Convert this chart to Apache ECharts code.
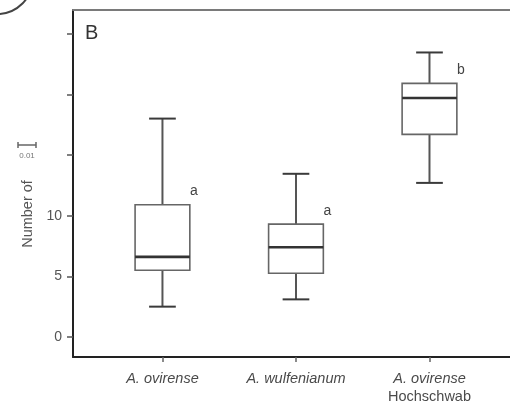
<!DOCTYPE html>
<html>
<head>
<meta charset="utf-8">
<style>
  html, body { margin: 0; padding: 0; background: #fff; }
  #chart { width: 510px; height: 411px; }
</style>
<script src="https://cdn.jsdelivr.net/npm/echarts@6/dist/echarts.min.js"></script>
</head>
<body>
<div id="chart"></div>
<script>
// Groups on the x axis (species name in italics, optional site on a second line)
const groups = ['A. ovirense', 'A. wulfenianum', 'A. ovirense'];
const sites = ['', '', 'Hochschwab'];

// Box-plot statistics per group
const whiskerLow  = [2.5, 3.1, 12.7];
const quart1      = [5.5, 5.25, 16.7];
const medians     = [6.6, 7.4, 19.7];
const quart3      = [10.9, 9.3, 20.9];
const whiskerHigh = [18.0, 13.45, 23.45];

// Significance letters
const letters = ['a', 'a', 'b'];

// Y axis ticks and which of them carry labels
const yTickValues = [0, 5, 10, 15, 20, 25];
const yLabelValues = [0, 5, 10];
const xTickValues = [0, 1, 2];

const boxData = groups.map((g, i) => [i, whiskerLow[i], quart1[i], medians[i], quart3[i], whiskerHigh[i]]);

const chart = echarts.init(document.getElementById('chart'), null, { renderer: 'canvas' });

function renderBox(params, api) {
  const i = api.value(0);
  const cx = api.coord([i, 0])[0];
  const unit = api.size([1, 0])[0];
  const bw = unit * 0.41;
  const cw = unit * 0.2;
  const yLow = api.coord([i, api.value(1)])[1];
  const yQ1 = api.coord([i, api.value(2)])[1];
  const yMed = api.coord([i, api.value(3)])[1];
  const yQ3 = api.coord([i, api.value(4)])[1];
  const yHigh = api.coord([i, api.value(5)])[1];
  const whisker = { stroke: '#555', lineWidth: 2 };
  const cap = { stroke: '#3a3a3a', lineWidth: 2 };
  return {
    type: 'group',
    children: [
      { type: 'line', shape: { x1: cx, y1: yQ1, x2: cx, y2: yLow }, style: whisker },
      { type: 'line', shape: { x1: cx, y1: yQ3, x2: cx, y2: yHigh }, style: whisker },
      { type: 'line', shape: { x1: cx - cw / 2, y1: yLow, x2: cx + cw / 2, y2: yLow }, style: cap },
      { type: 'line', shape: { x1: cx - cw / 2, y1: yHigh, x2: cx + cw / 2, y2: yHigh }, style: cap },
      { type: 'rect', shape: { x: cx - bw / 2, y: yQ3, width: bw, height: yQ1 - yQ3 },
        style: { fill: '#fff', stroke: '#666', lineWidth: 1.6 } },
      { type: 'line', shape: { x1: cx - bw / 2, y1: yMed, x2: cx + bw / 2, y2: yMed },
        style: { stroke: '#333', lineWidth: 2.6 } },
      { type: 'text', x: cx + bw / 2 + 4, y: yQ3 - 13.5,
        style: { text: letters[i], fill: '#444', font: '14px "Liberation Sans", Arial, sans-serif',
                 align: 'center', verticalAlign: 'middle' } }
    ]
  };
}

const fontFam = '"Liberation Sans", Arial, sans-serif';

chart.setOption({
  animation: false,
  backgroundColor: '#fff',
  // plot area runs off the right edge of the canvas
  grid: { left: 73, top: 10, right: 0, bottom: 54 },
  xAxis: [{
    type: 'value',
    min: -0.67, max: 2.603,
    splitLine: { show: false },
    axisLine: { show: true, onZero: false, lineStyle: { color: '#222', width: 2 } },
    axisTick: { show: true, customValues: xTickValues, length: 5, lineStyle: { color: '#666', width: 1.5 } },
    axisLabel: {
      show: true,
      customValues: xTickValues,
      margin: 13,
      color: '#4a4a4a',
      fontFamily: fontFam,
      fontSize: 14.5,
      lineHeight: 18,
      formatter: function (v) {
        const i = Math.round(v);
        let s = '{it|' + groups[i] + '}';
        if (sites[i]) s += '\n{up|' + sites[i] + '}';
        return s;
      },
      rich: {
        it: { fontStyle: 'italic', fontSize: 14.5, color: '#4a4a4a', lineHeight: 18, fontFamily: fontFam },
        up: { fontStyle: 'normal', fontSize: 14.5, color: '#4a4a4a', lineHeight: 18, fontFamily: fontFam }
      }
    }
  }, {
    // top frame line
    type: 'value',
    position: 'top',
    min: -0.67, max: 2.603,
    splitLine: { show: false },
    axisLine: { show: true, onZero: false, lineStyle: { color: '#7a7a7a', width: 2 } },
    axisTick: { show: false },
    axisLabel: { show: false }
  }],
  yAxis: {
    type: 'value',
    min: -1.65, max: 26.95,
    splitLine: { show: false },
    axisLine: { show: true, onZero: false, lineStyle: { color: '#222', width: 2 } },
    axisTick: { show: true, customValues: yTickValues, length: 6, lineStyle: { color: '#555', width: 1.5 } },
    axisLabel: {
      show: true,
      customValues: yLabelValues,
      margin: 11,
      color: '#555',
      fontSize: 14,
      fontFamily: fontFam
    }
  },
  graphic: [
    // panel letter
    { type: 'text', left: 85, top: 23, z: 10,
      style: { text: 'B', fill: '#333', font: '20px ' + fontFam } },
    // y-axis title
    { type: 'text', x: 28, y: 214, rotation: Math.PI / 2, z: 10,
      style: { text: 'Number of', fill: '#555', font: '14.5px ' + fontFam,
               align: 'center', verticalAlign: 'middle' } },
    // small scale bar with its value
    { type: 'line', z: 10, shape: { x1: 18, y1: 145, x2: 36, y2: 145 }, style: { stroke: '#666', lineWidth: 1.5 } },
    { type: 'line', z: 10, shape: { x1: 18, y1: 142, x2: 18, y2: 148 }, style: { stroke: '#666', lineWidth: 1.5 } },
    { type: 'line', z: 10, shape: { x1: 36, y1: 142, x2: 36, y2: 148 }, style: { stroke: '#666', lineWidth: 1.5 } },
    { type: 'text', x: 27, y: 156, z: 10,
      style: { text: '0.01', fill: '#777', font: '8px ' + fontFam,
               align: 'center', verticalAlign: 'middle' } },
    // corner of the circled panel marker
    { type: 'circle', z: 10, shape: { cx: -3, cy: -22, r: 36 },
      style: { fill: null, stroke: '#444', lineWidth: 2 } }
  ],
  series: [{
    type: 'custom',
    renderItem: renderBox,
    encode: { x: 0, y: [1, 2, 3, 4, 5] },
    data: boxData,
    z: 5
  }]
});
</script>
</body>
</html>
